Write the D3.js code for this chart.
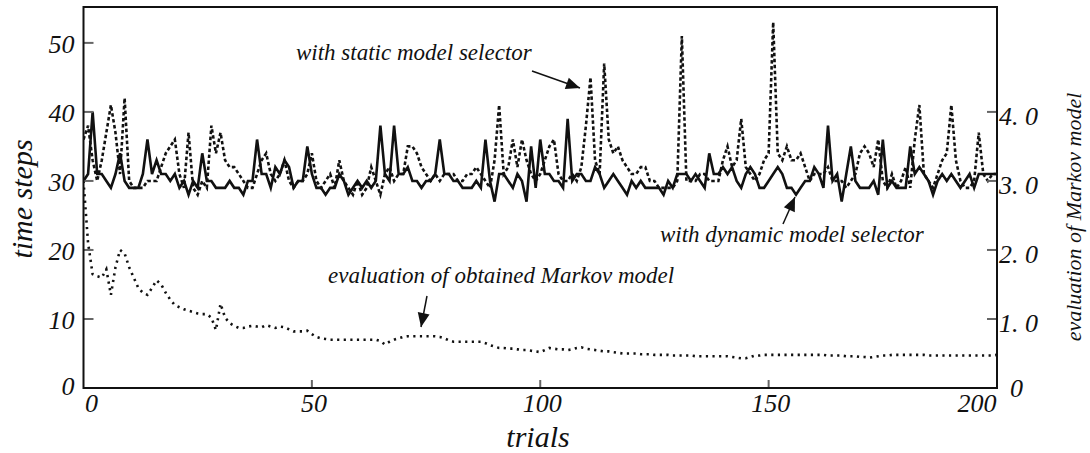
<!DOCTYPE html>
<html>
<head>
<meta charset="utf-8">
<script src="https://cdn.jsdelivr.net/npm/d3@7"></script>
<style>
  body { margin: 0; background: #fff; }
  text { font-family: "Liberation Serif", "DejaVu Serif", serif; font-style: italic; fill: #111; }
</style>
</head>
<body>
<svg id="chart" width="1090" height="453"></svg>
<script>
// trials 0..200
var dynamicSel = [30,31,40,31,31,30,29,31,34,30,29,29,29,31,36,31,33,31,31,30,
  31,29,30,28,30,29,34,30,30,29,29,29,30,29,29,28,30,30,36,31,
  31,29,32,31,33,32,29,30,30,35,31,29,29,28,29,29,31,30,28,29,
  30,29,30,29,30,38,31,30,38,31,31,32,30,30,29,30,30,31,36,31,
  31,30,30,29,29,29,30,29,36,30,27,31,31,30,29,31,30,27,35,29,
  36,31,31,30,30,29,39,30,31,31,30,30,32,31,29,30,31,30,29,28,
  30,29,30,29,29,29,29,28,30,29,31,31,31,30,31,30,29,34,31,31,
  32,31,32,30,29,31,32,31,29,29,30,31,32,31,29,29,28,29,30,30,
  32,31,29,38,30,31,27,31,35,30,29,29,29,30,28,36,29,30,29,29,
  29,35,31,32,31,30,28,30,31,30,31,30,29,30,31,29,31,31,31,31,31];

var staticSel = [36,38,33,30,33,37,41,37,31,42,30,29,29,29,30,30,30,32,34,35,
  36,31,29,37,29,28,30,29,38,34,37,33,32,32,31,30,29,29,31,33,
  34,31,30,31,33,30,29,30,30,31,34,30,29,30,31,29,33,30,29,28,
  30,28,29,32,30,28,31,32,30,31,31,35,35,34,32,31,30,31,30,31,
  31,31,30,30,31,31,32,31,30,29,33,41,31,32,36,32,36,33,31,30,
  31,33,35,36,31,30,30,31,30,32,38,45,33,31,47,36,34,35,33,32,
  31,31,32,32,30,30,29,29,29,29,30,51,30,30,30,31,31,30,30,30,
  33,35,32,33,39,32,31,30,31,33,34,53,34,33,35,33,33,34,32,30,
  31,31,31,32,30,30,30,29,30,31,34,35,34,32,36,30,29,31,29,30,
  32,29,36,41,31,30,29,31,33,34,41,33,30,29,29,30,37,31,30,31,31];

var markovEval = [3.0,2.1,1.65,1.62,1.6,1.72,1.35,1.75,2.0,1.95,1.75,1.6,1.45,1.38,1.35,1.45,1.56,1.5,1.38,1.28,
  1.2,1.17,1.14,1.12,1.1,1.08,1.07,1.07,1.02,0.84,1.22,1.02,0.94,0.9,0.87,0.87,0.89,0.9,0.89,0.88,
  0.91,0.89,0.87,0.89,0.88,0.85,0.82,0.82,0.82,0.83,0.78,0.74,0.72,0.71,0.7,0.7,0.7,0.7,0.7,0.7,
  0.7,0.7,0.7,0.7,0.7,0.68,0.63,0.67,0.7,0.72,0.74,0.75,0.75,0.75,0.75,0.75,0.75,0.75,0.74,0.72,
  0.69,0.67,0.67,0.67,0.67,0.67,0.67,0.67,0.65,0.62,0.6,0.58,0.58,0.57,0.57,0.56,0.55,0.55,0.54,0.53,
  0.52,0.55,0.58,0.57,0.56,0.56,0.55,0.56,0.58,0.59,0.57,0.56,0.55,0.54,0.53,0.53,0.52,0.51,0.5,0.5,
  0.5,0.5,0.49,0.49,0.49,0.48,0.48,0.48,0.48,0.47,0.47,0.47,0.47,0.47,0.46,0.46,0.46,0.46,0.46,0.46,
  0.46,0.46,0.45,0.44,0.43,0.43,0.45,0.47,0.47,0.48,0.48,0.48,0.48,0.48,0.48,0.48,0.48,0.48,0.48,0.48,
  0.48,0.48,0.48,0.47,0.47,0.47,0.47,0.46,0.46,0.46,0.45,0.45,0.44,0.45,0.46,0.47,0.47,0.48,0.48,0.48,
  0.48,0.48,0.48,0.48,0.48,0.47,0.47,0.47,0.47,0.47,0.47,0.47,0.47,0.47,0.47,0.47,0.47,0.47,0.47,0.47,0.48];

var xTicks = [0, 50, 100, 150, 200];
var leftTicks = [0, 10, 20, 30, 40, 50];
var rightTicks = [0, 1, 2, 3, 4];
var rightTickLabels = ["0", "1. 0", "2. 0", "3. 0", "4. 0"];

var svg = d3.select("#chart");
var plotL = 83.5, plotR = 997, plotT = 7, plotB = 388;

var x = d3.scaleLinear().domain([0, 200]).range([plotL, plotR]);
var y = d3.scaleLinear().domain([0, 55.2]).range([plotB, plotT]);
var y2 = d3.scaleLinear().domain([0, 5.52]).range([plotB, plotT]);

var line = d3.line().x(function(d, i) { return x(i); }).y(function(d) { return y(d); });
var line2 = d3.line().x(function(d, i) { return x(i); }).y(function(d) { return y2(d); });

svg.append("clipPath").attr("id", "clip")
  .append("rect").attr("x", plotL).attr("y", plotT).attr("width", plotR - plotL).attr("height", plotB - plotT);

var plot = svg.append("g").attr("clip-path", "url(#clip)");

plot.append("path").datum(markovEval)
  .attr("d", line2).attr("fill", "none").attr("stroke", "#111")
  .attr("stroke-width", 2.6).attr("stroke-dasharray", "2.2,4.4");

plot.append("path").datum(staticSel)
  .attr("d", line).attr("fill", "none").attr("stroke", "#111")
  .attr("stroke-width", 2.6).attr("stroke-dasharray", "3.5,2.5");

plot.append("path").datum(dynamicSel)
  .attr("d", line).attr("fill", "none").attr("stroke", "#111")
  .attr("stroke-width", 2.6).attr("stroke-linejoin", "miter");

// ticks (inward, gray)
var tickColor = "#666";
svg.append("g").selectAll("line").data(leftTicks.slice(1)).join("line")
  .attr("x1", plotL).attr("x2", plotL + 10)
  .attr("y1", function(d) { return y(d); }).attr("y2", function(d) { return y(d); })
  .attr("stroke", tickColor).attr("stroke-width", 2);
svg.append("g").selectAll("line").data(rightTicks.slice(1)).join("line")
  .attr("x1", plotR - 10).attr("x2", plotR)
  .attr("y1", function(d) { return y2(d); }).attr("y2", function(d) { return y2(d); })
  .attr("stroke", tickColor).attr("stroke-width", 2);
svg.append("g").selectAll("line").data(xTicks.slice(1, 4)).join("line")
  .attr("x1", function(d) { return x(d); }).attr("x2", function(d) { return x(d); })
  .attr("y1", plotB).attr("y2", plotB - 8)
  .attr("stroke", tickColor).attr("stroke-width", 2);

// frame
svg.append("rect").attr("x", plotL).attr("y", plotT)
  .attr("width", plotR - plotL).attr("height", plotB - plotT)
  .attr("fill", "none").attr("stroke", "#111").attr("stroke-width", 2);

// tick labels
svg.append("g").selectAll("text").data(leftTicks).join("text")
  .attr("x", plotL - 9).attr("y", function(d) { return d == 0 ? y(d) + 7 : y(d) + 10; })
  .attr("text-anchor", "end").style("font-size", "26px")
  .text(function(d) { return d; });

svg.append("g").selectAll("text").data(xTicks).join("text")
  .attr("x", function(d, i) { return i == 0 ? x(d) + 8 : (i == 4 ? x(d) - 20 : x(d) + 2); })
  .attr("y", plotB + 24)
  .attr("text-anchor", "middle").style("font-size", "26px")
  .text(function(d) { return d; });

svg.append("g").selectAll("text").data(rightTicks).join("text")
  .attr("x", function(d) { return d == 0 ? plotR + 13 : plotR + 2; })
  .attr("y", function(d) { return d == 0 ? plotB + 9 : y2(d) + 13; })
  .attr("text-anchor", "start").style("font-size", "26px")
  .text(function(d, i) { return rightTickLabels[i]; });

// axis titles
svg.append("text").attr("transform", "translate(32,199) rotate(-90)")
  .attr("text-anchor", "middle").style("font-size", "30px").text("time steps");
svg.append("text").attr("x", 538).attr("y", 447)
  .attr("text-anchor", "middle").style("font-size", "30px").text("trials");
svg.append("text").attr("transform", "translate(1081,217) rotate(-90)")
  .attr("text-anchor", "middle").style("font-size", "22px").text("evaluation of Markov model");

// annotations with arrows
function note(txt, tx, ty, a) {
  svg.append("text").attr("x", tx).attr("y", ty).style("font-size", "23px").text(txt);
  svg.append("line").attr("x1", a[0]).attr("y1", a[1]).attr("x2", a[2]).attr("y2", a[3])
    .attr("stroke", "#111").attr("stroke-width", 1.5);
  var ang = Math.atan2(a[3] - a[1], a[2] - a[0]);
  var L = 14, W = 6;
  var bx = a[2] - L * Math.cos(ang), by = a[3] - L * Math.sin(ang);
  svg.append("path")
    .attr("d", "M" + a[2] + "," + a[3] +
      "L" + (bx - W * Math.sin(ang)) + "," + (by + W * Math.cos(ang)) +
      "L" + (bx + W * Math.sin(ang)) + "," + (by - W * Math.cos(ang)) + "Z")
    .attr("fill", "#111");
}

note("with static model selector", 296, 60, [532, 71, 580, 88]);
note("with dynamic model selector", 660, 242, [783, 224, 795, 197]);
note("evaluation of obtained Markov model", 328, 283, [427, 296, 421, 327]);
</script>
</body>
</html>
